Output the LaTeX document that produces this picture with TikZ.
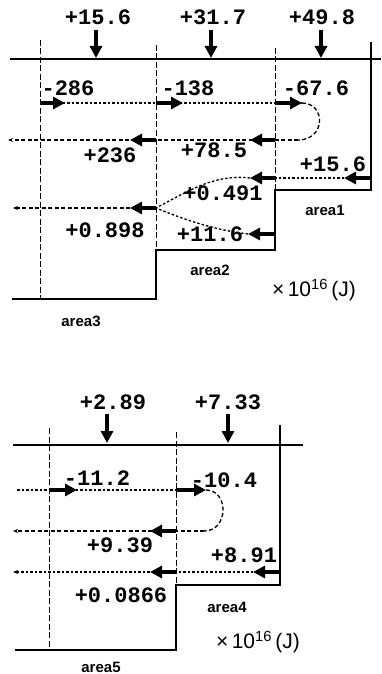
\documentclass[tikz,border=0pt]{standalone}
\usepackage{fontspec}
\setmainfont{Liberation Sans}
\newfontfamily\numfont{Liberation Mono}
\usetikzlibrary{arrows.meta}

\begin{document}
\begin{tikzpicture}[
	x=1pt, y=-1pt,
	pt/.style={ coordinate },
	wall/.style={ line width=1.9pt },
	roof/.style={ line width=2.4pt },
	grid/.style={ line width=0.8pt, dash pattern=on 6pt off 2.5pt },
	flow/.style={ line width=1.3pt, dash pattern=on 2.5pt off 2pt },
	back/.style={ line width=1.3pt, dash pattern=on 4pt off 2.5pt },
	big/.style={ line width=3.6pt, -{Triangle[length=12pt,width=12pt]} },
	tip/.style={ -{Stealth[length=5pt,width=4pt]} },
	num/.style={ font=\numfont\bfseries\fontsize{22}{24}\selectfont, inner sep=0pt },
	area/.style={ font=\bfseries\fontsize{15}{17}\selectfont, inner sep=0pt },
	unit/.style={ font=\fontsize{21}{23}\selectfont, inner sep=0pt }
]
\useasboundingbox (0,0) rectangle (381,674);

% upper diagram: walls
\node at (10,59) (u1) [pt] {};
\node at (381,59) (u2) [pt] {};
\draw[roof] (u1) to (u2);
\node at (40,40) (g1) [pt] {};
\node at (40,299) (g2) [pt] {};
\node at (156,45) (g3) [pt] {};
\node at (156,250) (g4) [pt] {};
\node at (156,299) (g5) [pt] {};
\node at (275,48) (g6) [pt] {};
\node at (275,190) (g7) [pt] {};
\node at (275,250) (g8) [pt] {};
\node at (371,42) (g9) [pt] {};
\node at (371,190) (g10) [pt] {};
\node at (12,299) (g11) [pt] {};
\draw[grid] (g1) to (g2);
\draw[grid] (g3) to (g4);
\draw[grid] (g6) to (g7);
\draw[wall] (g9) to (g10) to (g7) to (g8) to (g4) to (g5) to (g11);

% upper diagram: inputs from above
\node at (98,17) (i1) [num] {+15.6};
\node at (213,17) (i2) [num] {+31.7};
\node at (322,17) (i3) [num] {+49.8};
\node at (96,30) (d1) [pt] {};
\node at (96,58) (e1) [pt] {};
\node at (211,30) (d2) [pt] {};
\node at (211,58) (e2) [pt] {};
\node at (321,30) (d3) [pt] {};
\node at (321,58) (e3) [pt] {};
\draw[big] (d1) to (e1);
\draw[big] (d2) to (e2);
\draw[big] (d3) to (e3);

% upper diagram: first row
\node at (40,103) (a1) [pt] {};
\node at (65,103) (a2) [pt] {};
\node at (156,103) (a3) [pt] {};
\node at (183,103) (a4) [pt] {};
\node at (275,103) (a5) [pt] {};
\node at (302,103) (a6) [pt] {};
\draw[flow] (a1) to (a6);
\draw[big] (a1) to (a2);
\draw[big] (a3) to (a4);
\draw[big] (a5) to (a6);
\node at (68,88) (l1) [num] {-286};
\node at (188,88) (l2) [num] {-138};
\node at (316,88) (l3) [num] {-67.6};

% upper diagram: turn and second row
\node at (298,140) (b1) [pt] {};
\node at (275,140) (b2) [pt] {};
\node at (250,140) (b3) [pt] {};
\node at (156,140) (b4) [pt] {};
\node at (130,140) (b5) [pt] {};
\node at (8,140) (b6) [pt] {};
\draw[back] (a6) .. controls (326,103) and (326,140) .. (b1);
\draw[back,tip] (b1) to (b6);
\draw[big] (b2) to (b3);
\draw[big] (b4) to (b5);
\node at (110,155) (l4) [num] {+236};
\node at (214,150) (l5) [num] {+78.5};
\node at (333,164) (l6) [num] {+15.6};

% upper diagram: third and fourth rows
\node at (371,178) (c1) [pt] {};
\node at (344,178) (c2) [pt] {};
\node at (275,178) (c3) [pt] {};
\node at (250,178) (c4) [pt] {};
\node at (156,208) (c5) [pt] {};
\node at (130,208) (c6) [pt] {};
\node at (13,208) (c7) [pt] {};
\node at (275,234) (c8) [pt] {};
\node at (248,234) (c9) [pt] {};
\draw[flow] (c1) to (c3);
\draw[big] (c1) to (c2);
\draw[big] (c3) to (c4);
\draw[flow] (c4) .. controls (215,174) and (190,190) .. (c5);
\draw[flow] (c9) .. controls (215,230) and (185,220) .. (c5);
\draw[back,tip] (c5) to (c7);
\draw[big] (c5) to (c6);
\draw[big] (c8) to (c9);
\node at (223,193) (l7) [num] {+0.491};
\node at (105,230) (l8) [num] {+0.898};
\node at (210,234) (l9) [num] {+11.6};

\node at (325,210) (n1) [area] {area1};
\node at (210,270) (n2) [area] {area2};
\node at (81,321) (n3) [area] {area3};
\node at (314,290) (x1) [unit] {×\,10\textsuperscript{16}\,(J)};

% lower diagram: walls
\node at (13,445) (w1) [pt] {};
\node at (303,445) (w2) [pt] {};
\draw[roof] (w1) to (w2);
\node at (49,428) (h1) [pt] {};
\node at (49,650) (h2) [pt] {};
\node at (176,432) (h3) [pt] {};
\node at (176,585) (h4) [pt] {};
\node at (176,650) (h5) [pt] {};
\node at (280,425) (h6) [pt] {};
\node at (280,585) (h7) [pt] {};
\node at (15,650) (h8) [pt] {};
\draw[grid] (h1) to (h2);
\draw[grid] (h3) to (h4);
\draw[wall] (h6) to (h7) to (h4) to (h5) to (h8);

% lower diagram: inputs from above
\node at (113,402) (j1) [num] {+2.89};
\node at (228,402) (j2) [num] {+7.33};
\node at (107,414) (f1) [pt] {};
\node at (107,443) (k1) [pt] {};
\node at (228,414) (f2) [pt] {};
\node at (228,443) (k2) [pt] {};
\draw[big] (f1) to (k1);
\draw[big] (f2) to (k2);

% lower diagram: rows
\node at (17,490) (m1) [pt] {};
\node at (49,490) (m2) [pt] {};
\node at (77,490) (m3) [pt] {};
\node at (176,490) (m4) [pt] {};
\node at (206,490) (m5) [pt] {};
\draw[flow] (m1) to (m5);
\draw[big] (m2) to (m3);
\draw[big] (m4) to (m5);
\node at (97,478) (q1) [num] {-11.2};
\node at (224,480) (q2) [num] {-10.4};

\node at (204,531) (s1) [pt] {};
\node at (176,531) (s2) [pt] {};
\node at (150,531) (s3) [pt] {};
\node at (13,531) (s4) [pt] {};
\draw[back] (m5) .. controls (229,490) and (229,531) .. (s1);
\draw[back,tip] (s1) to (s4);
\draw[big] (s2) to (s3);
\node at (120,545) (q3) [num] {+9.39};

\node at (280,572) (r1) [pt] {};
\node at (253,572) (r2) [pt] {};
\node at (176,572) (r3) [pt] {};
\node at (150,572) (r4) [pt] {};
\node at (13,572) (r5) [pt] {};
\draw[flow,tip] (r1) to (r5);
\draw[big] (r1) to (r2);
\draw[big] (r3) to (r4);
\node at (244,555) (q4) [num] {+8.91};
\node at (121,595) (q5) [num] {+0.0866};

\node at (227,607) (n4) [area] {area4};
\node at (101,667) (n5) [area] {area5};
\node at (258,642) (x2) [unit] {×\,10\textsuperscript{16}\,(J)};

\end{tikzpicture}
\end{document}
